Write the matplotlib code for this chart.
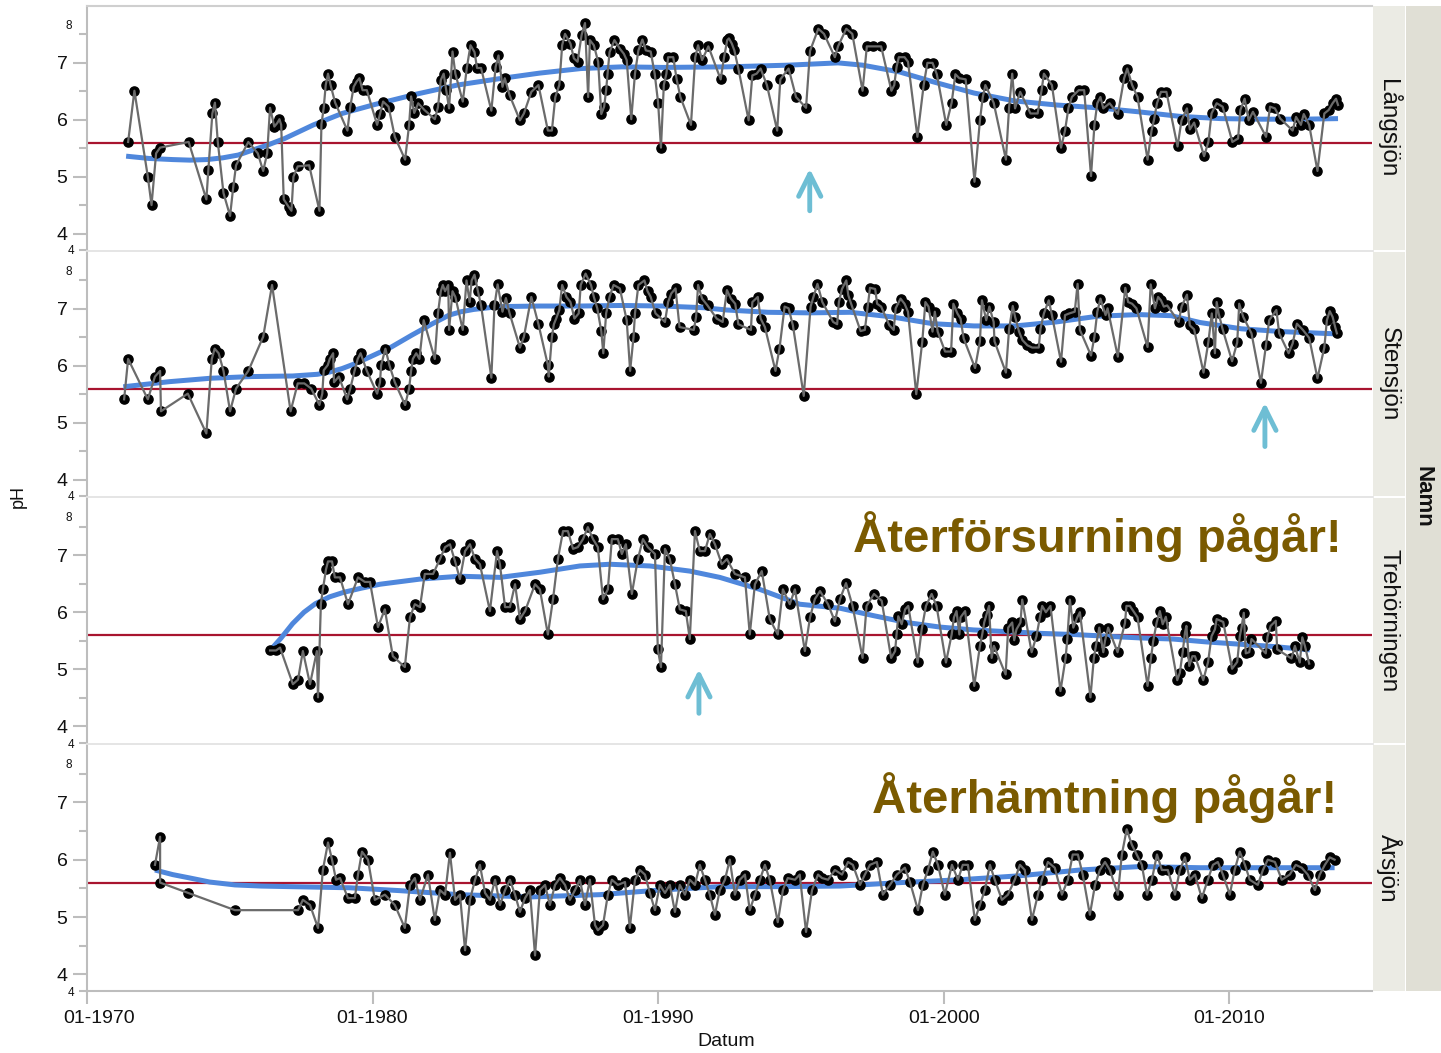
import numpy as np
import matplotlib
matplotlib.use("Agg")
import matplotlib.pyplot as plt
from matplotlib.patches import Rectangle
from matplotlib.lines import Line2D
import matplotlib.transforms as mtrans

plt.rcParams['font.family'] = ['Liberation Sans', 'DejaVu Sans']

# ---------------- DATA ----------------
lakes = ["Långsjön", "Stensjön", "Trehörningen", "Årsjön"]
x_tick_years = [1970, 1980, 1990, 2000, 2010]
x_tick_labels = ["01-1970", "01-1980", "01-1990", "01-2000", "01-2010"]
y_major = [4, 5, 6, 7]
y_minor = [4.5, 5.5, 6.5, 7.5]
threshold_ph = 5.6

langsjon_year = [
    1971.44, 1971.66, 1972.13, 1972.26, 1972.42, 1972.56, 1973.56, 1974.18, 1974.25, 1974.39,
    1974.48, 1974.58, 1974.78, 1975.01, 1975.12, 1975.22, 1975.65, 1975.98, 1976.17, 1976.31,
    1976.41, 1976.56, 1976.66, 1976.74, 1976.80, 1976.89, 1977.06, 1977.16, 1977.23, 1977.38,
    1977.78, 1978.14, 1978.21, 1978.29, 1978.36, 1978.44, 1978.53, 1978.69, 1979.12, 1979.22,
    1979.34, 1979.44, 1979.54, 1979.65, 1979.80, 1980.16, 1980.26, 1980.37, 1980.56, 1980.78,
    1981.14, 1981.28, 1981.35, 1981.46, 1981.60, 1981.82, 1982.18, 1982.29, 1982.39, 1982.49,
    1982.58, 1982.68, 1982.80, 1982.90, 1983.16, 1983.30, 1983.43, 1983.57, 1983.66, 1983.80,
    1984.16, 1984.31, 1984.41, 1984.55, 1984.63, 1984.80, 1985.16, 1985.30, 1985.56, 1985.81,
    1986.14, 1986.28, 1986.40, 1986.54, 1986.64, 1986.74, 1986.93, 1987.05, 1987.18, 1987.32,
    1987.44, 1987.55, 1987.61, 1987.75, 1987.90, 1988.01, 1988.11, 1988.18, 1988.23, 1988.30,
    1988.47, 1988.66, 1988.80, 1988.90, 1989.06, 1989.19, 1989.31, 1989.45, 1989.57, 1989.74,
    1989.88, 1990.00, 1990.10, 1990.20, 1990.29, 1990.35, 1990.53, 1990.65, 1990.78, 1991.15,
    1991.30, 1991.40, 1991.54, 1991.76, 1992.19, 1992.31, 1992.42,
    1992.48, 1992.58, 1992.67, 1992.81, 1993.17, 1993.30, 1993.45, 1993.59, 1993.81, 1994.17,
    1994.28, 1994.57, 1994.83, 1995.18, 1995.32, 1995.61, 1995.81, 1996.19, 1996.30, 1996.59,
    1996.80, 1997.16, 1997.31, 1997.52, 1997.81, 1998.17, 1998.27, 1998.35, 1998.43, 1998.63,
    1998.75, 1999.08, 1999.30, 1999.43, 1999.61, 1999.76, 2000.09, 2000.28, 2000.41, 2000.55,
    2000.77, 2001.08, 2001.27, 2001.37, 2001.46, 2001.75, 2002.18, 2002.29, 2002.40, 2002.50,
    2002.68, 2003.04, 2003.29, 2003.43, 2003.51, 2003.79, 2004.11, 2004.25, 2004.37, 2004.49,
    2004.73, 2004.92, 2005.16, 2005.28, 2005.38, 2005.49, 2005.59, 2005.81, 2006.10, 2006.32,
    2006.43, 2006.60, 2006.79, 2007.14, 2007.28, 2007.37, 2007.47, 2007.61, 2007.80, 2008.19,
    2008.33, 2008.52, 2008.62, 2008.77, 2009.12, 2009.27, 2009.38, 2009.56, 2009.77, 2010.11,
    2010.31, 2010.39, 2010.54, 2010.68, 2010.83, 2011.29, 2011.43, 2011.60, 2011.79, 2012.22,
    2012.34, 2012.51, 2012.61, 2012.80, 2013.09, 2013.33, 2013.48, 2013.62, 2013.74, 2013.81,
]
langsjon_ph = [
    5.61, 6.51, 5.00, 4.50, 5.41, 5.51, 5.61, 4.60, 5.12, 6.11,
    6.30, 5.61, 4.71, 4.31, 4.81, 5.20, 5.61, 5.41, 5.10, 5.41,
    6.21, 5.88, 5.94, 6.01, 5.91, 4.60, 4.47, 4.40, 5.00, 5.18,
    5.20, 4.40, 5.92, 6.21, 6.61, 6.81, 6.61, 6.30, 5.81, 6.23,
    6.58, 6.67, 6.73, 6.52, 6.52, 5.91, 6.10, 6.32, 6.23, 5.70,
    5.30, 5.91, 6.41, 6.12, 6.29, 6.17, 6.01, 6.22, 6.70, 6.81,
    6.52, 6.20, 7.20, 6.81, 6.32, 6.91, 7.31, 7.19, 6.91, 6.91,
    6.16, 6.93, 7.13, 6.58, 6.73, 6.43, 5.99, 6.11, 6.49, 6.61,
    5.81, 5.81, 6.40, 6.61, 7.31, 7.51, 7.34, 7.08, 7.02, 7.49,
    7.70, 6.40, 7.40, 7.31, 7.02, 6.10, 6.23, 6.52, 6.81, 7.19,
    7.40, 7.25, 7.16, 7.05, 6.01, 6.81, 7.22, 7.41, 7.22, 7.20,
    6.81, 6.30, 5.51, 6.61, 6.81, 7.10, 7.10, 6.71, 6.40, 5.91,
    7.10, 7.31, 7.05, 7.29, 6.71, 7.10, 7.40,
    7.43, 7.34, 7.22, 6.90, 5.99, 6.78, 6.81, 6.90, 6.61, 5.81,
    6.71, 6.90, 6.40, 6.21, 7.21, 7.60, 7.51, 7.10, 7.29, 7.60,
    7.51, 6.51, 7.29, 7.29, 7.29, 6.51, 6.61, 6.93, 7.10, 7.10,
    7.02, 5.70, 6.61, 7.00, 7.00, 6.80, 5.91, 6.30, 6.80, 6.73,
    6.71, 4.91, 5.99, 6.40, 6.61, 6.30, 5.30, 6.21, 6.81, 6.20,
    6.49, 6.11, 6.11, 6.52, 6.81, 6.61, 5.51, 5.81, 6.21, 6.40,
    6.52, 6.52, 5.01, 5.91, 6.29, 6.40, 6.20, 6.29, 6.10, 6.73,
    6.90, 6.61, 6.40, 5.30, 5.81, 6.01, 6.29, 6.49, 6.49, 5.53,
    5.99, 6.20, 5.83, 5.95, 5.36, 5.61, 6.11, 6.29, 6.23, 5.61,
    5.67, 6.17, 6.37, 5.99, 6.14, 5.70, 6.23, 6.20, 6.02, 5.81,
    6.05, 5.91, 6.10, 5.91, 5.10, 6.11, 6.17, 6.29, 6.37, 6.26,
]
langsjon_smooth_year = [1971.37, 1972.16, 1973.00, 1973.60, 1974.20, 1974.75, 1975.30, 1975.76,
                        1976.35, 1976.92, 1977.93, 1978.93,
                        1980.09, 1981.53, 1982.97, 1984.41, 1985.85, 1987.29, 1988.73, 1990.17,
                        1992.41, 1994.57, 1996.30, 1997.16, 1998.46, 1999.61, 2001.06, 2002.50,
                        2003.94, 2005.38, 2006.82, 2008.26, 2009.70, 2011.14, 2012.58, 2013.81]
langsjon_smooth_ph = [5.36, 5.32, 5.30, 5.29, 5.30, 5.33, 5.38, 5.46,
                      5.56, 5.67, 5.91, 6.11,
                      6.27, 6.45, 6.61, 6.72, 6.82, 6.90, 6.93, 6.92,
                      6.93, 6.96, 7.00, 6.96, 6.84, 6.67, 6.47, 6.33,
                      6.26, 6.21, 6.14, 6.06, 6.02, 6.01, 6.01, 6.02]

stensjon_year = [
    1971.30, 1971.44, 1972.13, 1972.38, 1972.56, 1972.59, 1973.53, 1974.18, 1974.37, 1974.47,
    1974.61, 1974.78, 1975.01, 1975.22, 1975.65, 1976.17, 1976.48, 1977.13, 1977.38, 1977.61,
    1977.85, 1978.14, 1978.24, 1978.29, 1978.43, 1978.50, 1978.62, 1978.65, 1978.82, 1979.11,
    1979.22, 1979.37, 1979.48, 1979.58, 1979.80, 1980.16, 1980.26, 1980.30, 1980.45, 1980.59,
    1980.78, 1981.14, 1981.28, 1981.35, 1981.41, 1981.53, 1981.64, 1981.79, 1982.18, 1982.29,
    1982.39, 1982.46, 1982.54, 1982.65, 1982.68, 1982.80, 1982.90, 1983.16, 1983.29, 1983.40,
    1983.47, 1983.57, 1983.69, 1983.80, 1984.16, 1984.27, 1984.38, 1984.55, 1984.67, 1984.80,
    1985.16, 1985.30, 1985.56, 1985.81, 1986.14, 1986.17, 1986.28, 1986.35, 1986.43, 1986.54,
    1986.64, 1986.79, 1986.93, 1987.07, 1987.22, 1987.29, 1987.46, 1987.65, 1987.75, 1987.87,
    1988.01, 1988.08, 1988.18, 1988.30, 1988.44, 1988.66, 1988.90, 1989.02, 1989.14, 1989.19,
    1989.31, 1989.52, 1989.63, 1989.74, 1989.91, 1990.24, 1990.35, 1990.46, 1990.61, 1990.75,
    1991.25, 1991.33, 1991.40, 1991.54, 1991.73, 1992.05, 1992.26, 1992.41,
    1992.55, 1992.70, 1992.81, 1993.25, 1993.30, 1993.49, 1993.59, 1993.74, 1994.11, 1994.25,
    1994.43, 1994.57, 1994.72, 1995.10, 1995.34, 1995.44, 1995.58, 1995.75, 1996.13, 1996.27,
    1996.33, 1996.44, 1996.59, 1996.66, 1996.76, 1997.09, 1997.24, 1997.34, 1997.42, 1997.60,
    1997.67, 1997.81, 1998.10, 1998.25, 1998.32, 1998.49, 1998.63, 1998.75, 1999.04, 1999.25,
    1999.36, 1999.47, 1999.61, 1999.69, 1999.79, 2000.05, 2000.26, 2000.34, 2000.48, 2000.59,
    2000.70, 2001.10, 2001.27, 2001.34, 2001.49, 2001.60, 2001.75, 2001.78, 2002.18, 2002.29,
    2002.42, 2002.50, 2002.64, 2002.76, 2002.93, 2003.10, 2003.33, 2003.39, 2003.51, 2003.68,
    2003.79, 2004.11, 2004.25, 2004.40, 2004.59, 2004.69, 2004.77, 2005.16, 2005.28, 2005.38,
    2005.49, 2005.67, 2005.74, 2006.10, 2006.36, 2006.46, 2006.60, 2006.75, 2007.14, 2007.25,
    2007.40, 2007.51, 2007.61, 2007.71, 2007.83, 2008.23, 2008.33, 2008.52, 2008.62, 2008.77,
    2009.10, 2009.27, 2009.39, 2009.50, 2009.56, 2009.63, 2009.77, 2010.10, 2010.28, 2010.35,
    2010.49, 2010.78, 2011.11, 2011.29, 2011.40, 2011.65, 2011.75, 2012.08, 2012.22, 2012.37,
    2012.58, 2012.80, 2013.09, 2013.33, 2013.42, 2013.52, 2013.62, 2013.71, 2013.77,
]
stensjon_ph = [
    5.41, 6.12, 5.41, 5.81, 5.91, 5.20, 5.51, 4.81, 6.12, 6.30,
    6.22, 5.91, 5.20, 5.60, 5.91, 6.51, 7.42, 5.20, 5.69, 5.69,
    5.60, 5.31, 5.51, 5.92, 6.01, 6.12, 6.22, 5.71, 5.81, 5.41,
    5.60, 5.91, 6.12, 6.22, 5.91, 5.51, 5.71, 6.01, 6.30, 6.01,
    5.71, 5.31, 5.60, 5.91, 6.12, 6.22, 6.12, 6.80, 6.12, 6.92,
    7.31, 7.42, 7.31, 7.42, 6.63, 7.31, 7.21, 6.63, 7.50, 7.12,
    7.50, 7.60, 7.31, 7.06, 5.79, 7.06, 7.43, 6.95, 7.19, 6.92,
    6.32, 6.51, 7.21, 6.73, 6.01, 5.81, 6.51, 6.73, 6.83, 6.98,
    7.42, 7.21, 7.12, 6.83, 6.92, 7.42, 7.62, 7.42, 7.21, 7.01,
    6.61, 6.22, 6.92, 7.21, 7.42, 7.36, 6.80, 5.91, 6.51, 6.92,
    7.42, 7.50, 7.31, 7.21, 6.92, 6.77, 7.12, 7.27, 7.36, 6.68,
    6.63, 6.86, 7.42, 7.18, 7.06, 6.83, 6.77, 7.33,
    7.18, 7.09, 6.73, 6.63, 7.12, 7.21, 6.83, 6.68, 5.91, 6.30,
    7.04, 7.01, 6.71, 5.47, 7.04, 7.21, 7.44, 7.12, 6.77, 6.73,
    7.12, 7.35, 7.50, 7.24, 7.09, 6.61, 6.63, 7.04, 7.37, 7.35,
    7.09, 7.04, 6.71, 6.63, 7.01, 7.18, 7.09, 6.95, 5.50, 6.42,
    7.12, 7.04, 6.60, 6.95, 6.60, 6.25, 6.25, 7.09, 6.92, 6.83,
    6.48, 5.96, 6.43, 7.15, 6.80, 7.04, 6.77, 6.43, 5.88, 6.64,
    7.05, 6.86, 6.60, 6.45, 6.36, 6.32, 6.32, 6.65, 6.92, 7.15,
    6.89, 6.07, 6.89, 6.92, 6.95, 7.44, 6.63, 6.18, 6.51, 6.95,
    7.18, 6.89, 7.01, 6.16, 7.37, 7.12, 7.09, 7.01, 6.33, 7.43,
    7.01, 7.21, 7.15, 7.04, 7.06, 6.77, 7.04, 7.25, 6.71, 6.64,
    5.88, 6.42, 6.92, 6.22, 7.12, 6.92, 6.64, 6.08, 6.41, 7.09,
    6.86, 6.57, 5.70, 6.37, 6.80, 6.98, 6.57, 6.22, 6.39, 6.74,
    6.63, 6.49, 5.78, 6.32, 6.80, 6.96, 6.86, 6.68, 6.57,
]
stensjon_smooth_year = [1971.27, 1972.88, 1974.32, 1975.76, 1977.20, 1978.07, 1978.50, 1978.93,
                        1979.35, 1979.80, 1980.66, 1981.38, 1982.10, 1982.68, 1983.10, 1983.54,
                        1984.41, 1985.85, 1987.29,
                        1988.73, 1990.17, 1991.61, 1992.41, 1993.85, 1995.29, 1996.73, 1998.17,
                        1999.61, 2001.06, 2002.50, 2003.94, 2005.38, 2006.82, 2007.97, 2008.98,
                        2010.42, 2011.86, 2013.77]
stensjon_smooth_ph = [5.63, 5.72, 5.78, 5.81, 5.82, 5.85, 5.89, 5.95,
                      6.03, 6.13, 6.33, 6.54, 6.74, 6.89, 6.95, 6.99,
                      7.04, 7.05, 7.05,
                      7.06, 7.05, 7.02, 6.98, 6.94, 6.93, 6.94, 6.86,
                      6.74, 6.70, 6.70, 6.77, 6.87, 6.90, 6.88, 6.76,
                      6.65, 6.60, 6.56]

trehorningen_year = [
    1976.41, 1976.62, 1976.76, 1977.21, 1977.39, 1977.56, 1977.81, 1978.05, 1978.09, 1978.19,
    1978.26, 1978.37, 1978.44, 1978.58, 1978.68, 1978.86, 1979.14, 1979.49, 1979.73, 1979.91,
    1980.19, 1980.43, 1980.71, 1981.13, 1981.31, 1981.48, 1981.66, 1981.83, 1982.12, 1982.36,
    1982.54, 1982.71, 1982.89, 1983.06, 1983.24, 1983.41, 1983.59, 1983.76, 1984.11, 1984.36,
    1984.46, 1984.64, 1984.81, 1984.99, 1985.16, 1985.34, 1985.69, 1985.86, 1986.14, 1986.32,
    1986.49, 1986.67, 1986.84, 1987.02, 1987.19, 1987.37, 1987.54, 1987.72, 1987.89, 1988.07,
    1988.24, 1988.38, 1988.59, 1988.73, 1988.87, 1989.08, 1989.29, 1989.47, 1989.64, 1989.89,
    1989.99, 1990.10, 1990.24, 1990.41, 1990.59, 1990.76, 1990.97, 1991.11, 1991.29, 1991.46,
    1991.64, 1991.81, 1991.99, 1992.23, 1992.41, 1992.69, 1993.04, 1993.21, 1993.39, 1993.63,
    1993.91, 1994.19, 1994.37, 1994.61, 1994.79, 1995.14, 1995.32, 1995.49, 1995.67, 1995.95,
    1996.19, 1996.37, 1996.58, 1996.81, 1997.16, 1997.30, 1997.56, 1997.83, 1998.16, 1998.30,
    1998.35, 1998.41, 1998.53, 1998.65, 1998.76, 1999.09, 1999.23, 1999.38, 1999.58, 1999.75,
    2000.08, 2000.28, 2000.36, 2000.45, 2000.55, 2000.59, 2000.75, 2001.07, 2001.27, 2001.35,
    2001.42, 2001.50, 2001.59, 2001.68, 2001.76, 2002.17, 2002.26, 2002.40, 2002.47, 2002.55,
    2002.69, 2002.75, 2003.08, 2003.25, 2003.37, 2003.45, 2003.58, 2003.74, 2004.09, 2004.27,
    2004.33, 2004.42, 2004.54, 2004.68, 2004.77, 2005.14, 2005.26, 2005.33, 2005.45, 2005.59,
    2005.65, 2005.76, 2006.09, 2006.35, 2006.40, 2006.52, 2006.64, 2006.79, 2007.14, 2007.26,
    2007.34, 2007.46, 2007.57, 2007.67, 2007.78, 2008.18, 2008.27, 2008.37, 2008.45, 2008.50,
    2008.60, 2008.71, 2008.80, 2009.09, 2009.26, 2009.38, 2009.50, 2009.56, 2009.79, 2010.10,
    2010.28, 2010.37, 2010.43, 2010.51, 2010.58, 2010.70, 2010.78, 2011.28, 2011.34, 2011.45,
    2011.63, 2011.68, 2012.18, 2012.30, 2012.47, 2012.56, 2012.65, 2012.80,
]
trehorningen_ph = [
    5.33, 5.33, 5.38, 4.74, 4.82, 5.32, 4.74, 5.32, 4.51, 6.14,
    6.40, 6.75, 6.89, 6.89, 6.61, 6.61, 6.14, 6.61, 6.53, 6.53,
    5.74, 6.05, 5.23, 5.04, 5.91, 6.14, 6.09, 6.67, 6.67, 6.93,
    7.14, 7.19, 6.89, 6.58, 7.07, 7.19, 6.93, 6.84, 6.02, 7.07,
    6.84, 6.09, 6.09, 6.49, 5.88, 6.02, 6.49, 6.40, 5.61, 6.23,
    6.93, 7.42, 7.42, 7.11, 7.14, 7.28, 7.49, 7.28, 7.14, 6.23,
    6.40, 7.28, 7.28, 7.02, 7.19, 6.32, 6.93, 7.28, 7.14, 7.02,
    5.35, 5.04, 7.11, 6.93, 6.49, 6.05, 6.02, 5.53, 7.42, 7.07,
    7.07, 7.37, 7.19, 6.84, 6.93, 6.67, 6.61, 5.61, 6.49, 6.72,
    5.88, 5.61, 6.40, 6.14, 6.40, 5.32, 5.91, 6.23, 6.37, 6.14,
    5.84, 6.23, 6.51, 6.11, 5.20, 6.11, 6.32, 6.20, 5.20, 5.32,
    5.61, 5.93, 5.79, 6.05, 6.11, 5.12, 5.70, 6.11, 6.32, 6.11,
    5.12, 5.61, 5.91, 6.02, 5.61, 5.91, 6.02, 4.71, 5.41, 5.61,
    5.82, 5.96, 6.11, 5.20, 5.41, 4.91, 5.73, 5.82, 5.51, 5.70,
    5.82, 6.22, 5.30, 5.58, 5.91, 6.11, 6.00, 6.11, 4.62, 5.20,
    5.53, 6.22, 5.73, 5.91, 6.00, 4.51, 5.20, 5.41, 5.73, 5.30,
    5.50, 5.73, 5.30, 5.81, 6.11, 6.11, 6.02, 5.91, 4.71, 5.20,
    5.50, 5.82, 6.02, 5.79, 5.92, 4.81, 4.94, 5.30, 5.64, 5.76,
    5.06, 5.23, 5.23, 4.81, 5.13, 5.58, 5.70, 5.88, 5.83, 5.01,
    5.13, 5.58, 5.73, 5.99, 5.28, 5.30, 5.53, 5.28, 5.57, 5.76,
    5.85, 5.35, 5.19, 5.41, 5.12, 5.56, 5.41, 5.10,
]
trehorningen_smooth_year = [1976.41, 1976.80, 1977.20, 1977.60, 1978.00, 1978.50, 1979.00, 1979.60,
                            1980.26, 1981.66, 1983.06, 1984.46,
                            1985.86, 1987.26, 1988.31, 1989.71, 1991.11, 1992.16, 1993.56, 1994.96,
                            1996.37, 1997.54, 1998.70, 1999.87, 2001.04, 2002.20, 2003.37, 2004.54,
                            2005.70, 2006.87, 2008.04, 2009.20, 2010.37, 2011.54, 2012.82]
trehorningen_smooth_ph = [5.33, 5.55, 5.80, 6.00, 6.15, 6.27, 6.35, 6.42,
                          6.49, 6.58, 6.63, 6.61,
                          6.70, 6.81, 6.84, 6.81, 6.72, 6.61, 6.40, 6.14,
                          6.07, 5.94, 5.82, 5.74, 5.69, 5.66, 5.63, 5.61,
                          5.58, 5.55, 5.53, 5.48, 5.44, 5.40, 5.34]

arsjon_year = [
    1972.38, 1972.56, 1972.56, 1973.54, 1975.18, 1977.39, 1977.56, 1977.81, 1978.09, 1978.26,
    1978.44, 1978.58, 1978.72, 1978.86, 1979.14, 1979.38, 1979.49, 1979.63, 1979.84, 1980.08,
    1980.43, 1980.78, 1981.13, 1981.31, 1981.48, 1981.66, 1981.94, 1982.18, 1982.36, 1982.54,
    1982.71, 1982.89, 1983.06, 1983.24, 1983.41, 1983.59, 1983.76, 1983.94, 1984.11, 1984.29,
    1984.46, 1984.64, 1984.81, 1984.99, 1985.16, 1985.34, 1985.51, 1985.69, 1985.86, 1986.04,
    1986.21, 1986.39, 1986.56, 1986.74, 1986.91, 1987.09, 1987.26, 1987.44, 1987.61, 1987.79,
    1987.89, 1988.07, 1988.24, 1988.38, 1988.59, 1988.84, 1989.01, 1989.19, 1989.36, 1989.54,
    1989.71, 1989.89, 1990.06, 1990.24, 1990.41, 1990.59, 1990.76, 1990.94, 1991.11, 1991.29,
    1991.46, 1991.64, 1991.81, 1991.99, 1992.16, 1992.34, 1992.51, 1992.69, 1992.86, 1993.04,
    1993.21, 1993.39, 1993.56, 1993.74, 1993.91, 1994.19, 1994.37, 1994.54, 1994.79, 1994.96,
    1995.18, 1995.39, 1995.60, 1995.74, 1995.95, 1996.19, 1996.44, 1996.65, 1996.82, 1997.07,
    1997.24, 1997.42, 1997.66, 1997.87, 1998.12, 1998.36, 1998.64, 1998.82, 1999.10, 1999.27,
    1999.45, 1999.62, 1999.80, 2000.04, 2000.29, 2000.50, 2000.67, 2000.85, 2001.09, 2001.27,
    2001.44, 2001.62, 2001.79, 2002.04, 2002.25, 2002.49, 2002.67, 2002.84, 2003.09, 2003.30,
    2003.44, 2003.65, 2003.89, 2004.14, 2004.35, 2004.52, 2004.70, 2004.87, 2005.12, 2005.30,
    2005.47, 2005.65, 2005.82, 2006.10, 2006.24, 2006.41, 2006.59, 2006.76, 2006.94, 2007.12,
    2007.29, 2007.47, 2007.64, 2007.85, 2008.10, 2008.27, 2008.45, 2008.62, 2008.80, 2009.04,
    2009.25, 2009.43, 2009.60, 2009.78, 2010.02, 2010.19, 2010.37, 2010.55, 2010.72, 2011.00,
    2011.18, 2011.35, 2011.60, 2011.84, 2012.12, 2012.33, 2012.54, 2012.75, 2013.00, 2013.17,
    2013.35, 2013.52, 2013.69,
]
arsjon_ph = [
    5.91, 6.40, 5.60, 5.42, 5.12, 5.12, 5.30, 5.21, 4.81, 5.82,
    6.30, 6.00, 5.65, 5.68, 5.33, 5.33, 5.74, 6.14, 6.00, 5.30,
    5.39, 5.21, 4.81, 5.56, 5.68, 5.30, 5.74, 4.95, 5.47, 5.39,
    6.12, 5.30, 5.39, 4.42, 5.30, 5.65, 5.91, 5.42, 5.30, 5.65,
    5.21, 5.47, 5.65, 5.39, 5.09, 5.33, 5.47, 4.33, 5.47, 5.56,
    5.21, 5.56, 5.68, 5.56, 5.30, 5.47, 5.65, 5.21, 5.65, 4.86,
    4.77, 4.86, 5.39, 5.65, 5.56, 5.61, 4.81, 5.65, 5.82, 5.74,
    5.42, 5.12, 5.56, 5.42, 5.56, 5.09, 5.56, 5.39, 5.65, 5.56,
    5.91, 5.65, 5.39, 5.04, 5.47, 5.65, 6.00, 5.39, 5.65, 5.74,
    5.12, 5.39, 5.65, 5.91, 5.65, 4.91, 5.47, 5.68, 5.65, 5.74,
    4.74, 5.47, 5.74, 5.68, 5.65, 5.82, 5.74, 5.96, 5.91, 5.56,
    5.74, 5.91, 5.96, 5.39, 5.56, 5.74, 5.86, 5.61, 5.12, 5.56,
    5.82, 6.14, 5.91, 5.39, 5.91, 5.65, 5.91, 5.91, 4.95, 5.21,
    5.47, 5.91, 5.65, 5.30, 5.39, 5.65, 5.91, 5.82, 4.95, 5.39,
    5.65, 5.96, 5.86, 5.39, 5.65, 6.09, 6.09, 5.74, 5.04, 5.56,
    5.82, 5.96, 5.82, 5.39, 6.09, 6.53, 6.26, 6.09, 5.91, 5.39,
    5.65, 6.09, 5.82, 5.82, 5.39, 5.82, 6.04, 5.65, 5.74, 5.33,
    5.65, 5.91, 5.96, 5.74, 5.39, 5.82, 6.14, 5.91, 5.65, 5.56,
    5.82, 6.00, 5.96, 5.65, 5.74, 5.91, 5.86, 5.74, 5.47, 5.74,
    5.91, 6.04, 6.00,
]
arsjon_smooth_year = [1972.38, 1973.00, 1973.61, 1974.30, 1975.18, 1976.10, 1977.11, 1979.21,
                      1980.96, 1983.06, 1985.51,
                      1987.96, 1990.06, 1992.16, 1994.26, 1996.37, 1998.47, 2000.57, 2002.67,
                      2004.77, 2006.87, 2008.97, 2011.07, 2013.69]
arsjon_smooth_ph = [5.82, 5.74, 5.68, 5.61, 5.56, 5.54, 5.53, 5.51,
                    5.46, 5.39, 5.35,
                    5.39, 5.47, 5.53, 5.53, 5.54, 5.60, 5.65, 5.72,
                    5.82, 5.88, 5.86, 5.86, 5.86]

series_year = [langsjon_year, stensjon_year, trehorningen_year, arsjon_year]
series_ph = [langsjon_ph, stensjon_ph, trehorningen_ph, arsjon_ph]
smooth_year = [langsjon_smooth_year, stensjon_smooth_year, trehorningen_smooth_year, arsjon_smooth_year]
smooth_ph = [langsjon_smooth_ph, stensjon_smooth_ph, trehorningen_smooth_ph, arsjon_smooth_ph]

# arrows: (panel index, year, tip pH, tail pH)
arrow_panel = [0, 1, 2]
arrow_year = [1995.31, 2011.25, 1991.43]
arrow_tip = [5.14, 5.35, 5.00]
arrow_tail = [4.40, 4.58, 4.23]

# ---------------- FIGURE ----------------
W, H = 1441, 1053
fig = plt.figure(figsize=(W / 100, H / 100), dpi=100)
fig.patch.set_facecolor('white')

def fx(px):
    return px / W

def fy(py):
    return 1 - py / H

panel_px = [(6, 250), (252, 496), (498, 743), (745, 991)]
left_px, right_px = 87, 1372
ylo, yhi = 3.71, 8.0
axis_gray = '#BDBDBD'

axes = []
for i, (top, bot) in enumerate(panel_px):
    ax = fig.add_axes([fx(left_px), fy(bot), (right_px - left_px) / W, (bot - top) / H])
    ax.set_xlim(1970, 2015)
    ax.set_ylim(ylo, yhi)
    ax.set_facecolor('white')
    for s in ['right', 'top', 'bottom']:
        ax.spines[s].set_visible(False)
    ax.spines['left'].set_color(axis_gray)
    ax.spines['left'].set_linewidth(1.5)
    if i == 0:
        ax.spines['top'].set_visible(True)
        ax.spines['top'].set_color('#CFCFCF')
        ax.spines['top'].set_linewidth(1.5)
    if i == 3:
        ax.spines['bottom'].set_visible(True)
        ax.spines['bottom'].set_color(axis_gray)
        ax.spines['bottom'].set_linewidth(1.5)
        ax.set_xticks(x_tick_years)
        ax.set_xticklabels(x_tick_labels)
        ax.tick_params(axis='x', length=9.5, width=1.5, color=axis_gray,
                       labelsize=14, pad=4, labelcolor='#111111')
        first = ax.get_xticklabels()[0]
        first.set_transform(first.get_transform() +
                            mtrans.ScaledTranslation(0.12, 0, fig.dpi_scale_trans))
    else:
        ax.set_xticks([])

    ax.set_yticks(y_major)
    ax.set_yticklabels([str(v) for v in y_major])
    ax.set_yticks([ylo] + y_minor, minor=True)
    ax.set_yticklabels(['4', '', '', '', ''], minor=True)
    ax.tick_params(axis='y', which='major', length=10, width=1.5, color=axis_gray,
                   labelsize=14, pad=4, labelcolor='#111111')
    ax.tick_params(axis='y', which='minor', length=5.8, width=1.5, color=axis_gray,
                   labelsize=8.5, pad=3.5, labelcolor='#111111')
    trans = mtrans.blended_transform_factory(ax.transAxes, ax.transData)
    ax.text(-0.0115, 7.65, '8', transform=trans, ha='right', va='center',
            fontsize=8.5, color='#111111')

    # threshold line
    ax.axhline(threshold_ph, color='#A8142F', lw=1.6, zorder=2)
    # smooth line
    ax.plot(smooth_year[i], smooth_ph[i], color='#4F87DC', lw=3.6,
            solid_capstyle='butt', solid_joinstyle='round', zorder=3)
    # points and connecting line
    ax.plot(series_year[i], series_ph[i], linestyle='none', marker='o', ms=6.6,
            color='black', zorder=4)
    ax.plot(series_year[i], series_ph[i], color='#6B6B6B', lw=1.6, zorder=5)
    axes.append(ax)

# arrows
for p, yr, tip, tail in zip(arrow_panel, arrow_year, arrow_tip, arrow_tail):
    axes[p].annotate('', xy=(yr, tip), xytext=(yr, tail),
                     arrowprops=dict(arrowstyle='->, head_length=0.8, head_width=0.4',
                                     lw=3.5, color='#6EBED4', mutation_scale=20,
                                     shrinkA=0, shrinkB=0, capstyle='round',
                                     joinstyle='round'),
                     zorder=6)

# panel separator lines
for ysep in [251, 497, 744]:
    fig.add_artist(Line2D([fx(left_px), fx(1373)], [fy(ysep), fy(ysep)],
                          color='#E3E3E3', lw=1.3))

# facet strips
for i, (top, bot) in enumerate(panel_px):
    fig.add_artist(Rectangle((fx(1373), fy(bot)), (1405 - 1373) / W, (bot - top) / H,
                             facecolor='#EBEBE4', edgecolor='none'))
    fig.text(fx(1389), fy((top + bot) / 2), lakes[i], rotation=-90, ha='center',
             va='center', fontsize=17.5, color='#111111')
fig.add_artist(Rectangle((fx(1406), fy(991)), (1441 - 1406) / W, (991 - 6) / H,
                         facecolor='#E0DFD5', edgecolor='none'))
fig.text(fx(1423), fy(497), 'Namn', rotation=-90, ha='center', va='center',
         fontsize=16, fontweight='bold', color='#111111')

# axis titles
fig.text(fx(18), fy(497), 'pH', rotation=90, ha='center', va='center',
         fontsize=13, color='#111111')
fig.text(fx(726), fy(1042), 'Datum', ha='center', va='center', fontsize=14,
         color='#111111')

# annotations
fig.text(fx(1342), fy(552), 'Återförsurning pågår!', ha='right', va='baseline',
         fontsize=34, fontweight='bold', color='#7A5A00')
fig.text(fx(1337), fy(813), 'Återhämtning pågår!', ha='right', va='baseline',
         fontsize=34, fontweight='bold', color='#7A5A00')

fig.savefig('out.png', dpi=100)
